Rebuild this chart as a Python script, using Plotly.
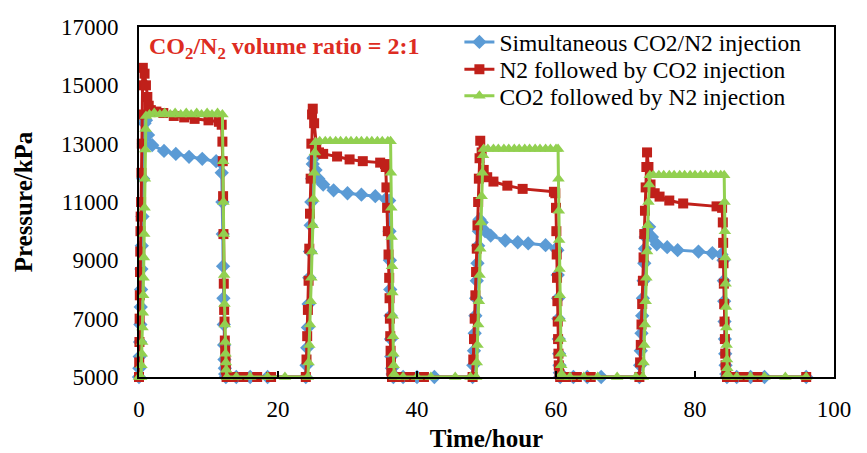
import plotly.graph_objects as go

# ---------------- data ----------------
blue_name = "Simultaneous CO2/N2 injection"
red_name = "N2 followed by CO2 injection"
green_name = "CO2 followed by N2 injection"

blue_t = [0.0, 0.05, 0.1, 0.15, 0.2, 0.25, 0.3, 0.35, 0.4, 0.5, 0.6, 0.7, 0.8, 1.0, 1.3, 1.9, 3.6, 5.3, 7.2, 9.1, 11.1, 11.8,
          11.9, 12.0, 12.05, 12.1, 12.15, 12.2, 12.25, 12.3, 12.35, 12.4, 12.5, 14.0, 16.0, 18.5, 24.0,
          24.1, 24.2, 24.3, 24.4, 24.5, 24.6, 24.7, 24.8, 24.9, 25.0, 25.1, 25.4, 25.8, 26.5, 28.0, 30.0, 32.0, 34.0, 35.5, 36.0,
          36.05, 36.1, 36.15, 36.2, 36.25, 36.3, 36.4, 36.5, 36.6, 38.0, 40.0, 42.5, 48.0,
          48.1, 48.2, 48.3, 48.4, 48.5, 48.6, 48.7, 48.8, 48.9, 49.0, 49.3, 49.8, 50.6, 52.7, 54.5, 56.0, 58.5, 60.0, 60.2,
          60.25, 60.3, 60.35, 60.4, 60.45, 60.5, 60.55, 60.6, 62.5, 64.5, 66.5, 72.0,
          72.1, 72.2, 72.3, 72.4, 72.5, 72.6, 72.7, 72.8, 72.9, 73.0, 73.4, 73.8, 74.5, 76.0, 77.5, 80.5, 82.5, 83.8, 84.1,
          84.15, 84.2, 84.25, 84.3, 84.35, 84.4, 84.5, 84.6, 86.0, 88.0, 90.0, 96.0]
blue_p = [5000, 5300, 5700, 6200, 6800, 7400, 8000, 8700, 9500, 10500, 11800, 13000, 13700, 13800, 13300, 12950, 12750, 12650, 12550, 12480, 12400, 12350,
          12000, 11000, 9900, 8800, 7700, 6800, 6100, 5600, 5300, 5100, 5000, 5000, 5000, 5000, 5000,
          5400, 6000, 6700, 7500, 8400, 9300, 10200, 11000, 11800, 12300, 12500, 12100, 11800, 11600, 11400, 11300, 11250, 11200, 11100, 11050,
          10000, 9000, 8000, 7100, 6300, 5700, 5300, 5100, 5000, 5000, 5000, 5000, 5000,
          5400, 5900, 6500, 7100, 7700, 8300, 8900, 9500, 10000, 10400, 10300, 10000, 9850, 9680, 9620, 9580, 9520, 9400, 9350,
          8500, 7700, 7000, 6300, 5800, 5400, 5150, 5000, 5000, 5000, 5000, 5000,
          5400, 5900, 6500, 7100, 7700, 8300, 8900, 9400, 9800, 10000, 10150, 9800, 9550, 9450, 9350, 9300, 9250, 9200, 9000,
          8300, 7600, 6900, 6300, 5800, 5400, 5100, 5000, 5000, 5000, 5000, 5000]

red_t = [0.0, 0.03, 0.06, 0.09, 0.12, 0.15, 0.18, 0.21, 0.24, 0.3, 0.35, 0.4, 0.45, 0.5, 0.55, 0.8, 1.0, 1.2, 1.4, 1.7, 2.5, 3.5, 5.0, 6.5, 8.0, 10.0, 11.5, 11.9,
         12.0, 12.05, 12.1, 12.15, 12.2, 12.25, 12.3, 12.35, 12.4, 12.45, 12.5, 12.6, 13.5, 15.0, 17.0, 19.0, 24.0,
         24.1, 24.2, 24.3, 24.4, 24.5, 24.6, 24.7, 24.8, 24.9, 25.0, 25.2, 25.5, 25.9, 26.5, 28.5, 30.3, 32.2, 34.7, 35.4,
         35.5, 35.6, 35.7, 35.8, 35.9, 36.0, 36.05, 36.1, 36.15, 36.2, 36.25, 36.3, 36.4, 37.5, 39.0, 41.0, 48.0,
         48.1, 48.2, 48.3, 48.4, 48.5, 48.6, 48.7, 48.8, 48.9, 49.0, 49.1, 49.3, 49.6, 50.1, 51.0, 53.0, 55.2, 59.7, 59.9,
         60.0, 60.05, 60.1, 60.15, 60.2, 60.25, 60.3, 60.35, 60.4, 60.5, 60.6, 61.5, 63.0, 65.0, 72.0,
         72.1, 72.2, 72.3, 72.4, 72.5, 72.6, 72.7, 72.8, 72.9, 73.0, 73.1, 73.3, 73.6, 74.2, 74.9, 76.3, 78.3, 83.1, 83.9,
         84.0, 84.05, 84.1, 84.15, 84.2, 84.25, 84.3, 84.35, 84.4, 84.5, 84.6, 85.5, 87.0, 89.0, 96.0]
red_p = [5000, 5500, 6200, 7000, 7800, 8600, 9300, 10000, 10500, 11000, 12000, 13000, 14000, 15000, 15600, 15400, 15000, 14600, 14300, 14150, 14100, 14050, 13950, 13900, 13850, 13800, 13750, 13650,
         13070, 12400, 11200, 9900, 8200, 7300, 6900, 6250, 5900, 5550, 5250, 5000, 5000, 5000, 5000, 5000, 5000,
         5600, 6400, 7300, 8300, 9400, 10600, 11800, 13000, 14000, 14200, 13700, 13000, 12700, 12650, 12560, 12460, 12400, 12350, 12300,
         12200, 11500, 10800, 10000, 9200, 8400, 7700, 7000, 6400, 5900, 5500, 5200, 5000, 5000, 5000, 5000, 5000,
         5600, 6300, 7000, 7800, 8600, 9400, 10200, 11000, 11800, 12500, 13100, 12700, 12100, 11850, 11700, 11560, 11450, 11350, 11300,
         10800, 10000, 9200, 8400, 7600, 6900, 6300, 5800, 5400, 5100, 5000, 5000, 5000, 5000, 5000,
         5500, 6100, 6800, 7500, 8300, 9100, 9900, 10700, 11500, 12200, 12700, 12200, 11600, 11300, 11185, 11050, 10950, 10850, 10800,
         10300, 9600, 8900, 8200, 7500, 6900, 6300, 5800, 5400, 5100, 5000, 5000, 5000, 5000, 5000]

green_t = [0.0, 0.3, 0.35, 0.4, 0.45, 0.5, 0.55, 0.6, 0.65, 0.7, 0.75, 0.8, 0.85, 0.9, 0.95, 1.0, 1.5, 2.2, 3.0, 3.7, 4.5, 5.2, 6.0, 6.8, 7.5, 8.3, 9.0, 9.8, 10.5, 11.3, 12.0,
           12.1, 12.15, 12.2, 12.25, 12.3, 12.35, 12.4, 12.45, 12.5, 12.55, 12.65, 14.0, 16.0, 18.5, 21.0, 24.3,
           24.4, 24.5, 24.6, 24.7, 24.8, 24.9, 25.0, 25.1, 25.2, 25.3, 25.4, 26.0, 26.8, 27.5, 28.3, 29.0, 29.8, 30.5, 31.3, 32.0, 32.8, 33.5, 34.3, 35.0, 35.8, 36.2,
           36.25, 36.3, 36.35, 36.4, 36.45, 36.5, 36.55, 36.6, 36.65, 36.7, 36.8, 38.0, 40.0, 42.0, 45.5, 47.7, 48.5,
           48.6, 48.7, 48.8, 48.9, 49.0, 49.1, 49.2, 49.3, 49.4, 49.5, 49.6, 50.2, 51.0, 51.7, 52.5, 53.2, 54.0, 54.7, 55.5, 56.2, 57.0, 57.7, 58.5, 59.2, 60.0, 60.3,
           60.35, 60.4, 60.45, 60.5, 60.55, 60.6, 60.65, 60.7, 60.75, 60.8, 60.9, 62.0, 64.0, 66.0, 68.8, 71.5, 72.5,
           72.6, 72.7, 72.8, 72.9, 73.0, 73.1, 73.2, 73.3, 73.4, 73.5, 74.0, 74.8, 75.5, 76.3, 77.0, 77.8, 78.5, 79.3, 80.0, 80.8, 81.5, 82.3, 83.0, 83.7, 84.2,
           84.25, 84.3, 84.35, 84.4, 84.45, 84.5, 84.55, 84.6, 84.65, 84.7, 84.8, 86.0, 88.0, 90.0, 93.0, 96.0]
green_p = [5000, 5000, 5400, 5800, 6200, 6700, 7200, 7800, 8400, 9100, 9900, 10800, 11800, 12800, 13500, 13950, 14000, 14050, 14000, 14050, 14000, 14050, 14000, 14050, 14000, 14050, 14000, 14050, 14000, 14050, 14000,
           12400, 11000, 9900, 8500, 7500, 6800, 6200, 5800, 5500, 5250, 5000, 5000, 5000, 5000, 5000, 5000,
           5500, 6100, 6800, 7600, 8400, 9300, 10200, 11100, 12000, 12700, 13050, 13080, 13080, 13080, 13080, 13080, 13080, 13080, 13080, 13080, 13080, 13080, 13080, 13080, 13080, 13080,
           12000, 10800, 9800, 8800, 7900, 7100, 6400, 5800, 5400, 5100, 5000, 5000, 5000, 5000, 5000, 5000, 5000,
           5500, 6100, 6800, 7600, 8500, 9400, 10300, 11200, 12000, 12600, 12820, 12820, 12820, 12820, 12820, 12820, 12820, 12820, 12820, 12820, 12820, 12820, 12820, 12820, 12820, 12820,
           11800, 10700, 9700, 8700, 7800, 7000, 6300, 5800, 5400, 5100, 5000, 5000, 5000, 5000, 5000, 5000, 5000,
           5500, 6100, 6800, 7600, 8400, 9300, 10200, 11000, 11600, 11920, 11920, 11920, 11920, 11920, 11920, 11920, 11920, 11920, 11920, 11920, 11920, 11920, 11920, 11920, 11920,
           11000, 10000, 9100, 8200, 7400, 6700, 6100, 5600, 5300, 5100, 5000, 5000, 5000, 5000, 5000, 5000]

x_ticks = [0, 20, 40, 60, 80, 100]
y_ticks = [5000, 7000, 9000, 11000, 13000, 15000, 17000]

# ---------------- styles ----------------
BLUE = "#5B9BD5"
RED = "#C0201A"
GREEN = "#92D050"
FONT = "Liberation Serif, Times New Roman, serif"
LEG_FONT = dict(family=FONT, size=23.5, color="black")

fig = go.Figure()
fig.add_trace(go.Scatter(x=blue_t, y=blue_p, name=blue_name, mode="lines+markers",
                         line=dict(color=BLUE, width=3),
                         marker=dict(symbol="diamond", size=11, color=BLUE),
                         cliponaxis=False, legend="legend"))
fig.add_trace(go.Scatter(x=red_t, y=red_p, name=red_name, mode="lines+markers",
                         line=dict(color=RED, width=3),
                         marker=dict(symbol="square", size=10, color=RED),
                         cliponaxis=False, legend="legend2"))
fig.add_trace(go.Scatter(x=green_t, y=green_p, name=green_name, mode="lines+markers",
                         line=dict(color=GREEN, width=3),
                         marker=dict(symbol="triangle-up", size=11, color=GREEN),
                         cliponaxis=False, legend="legend3"))

fig.add_annotation(text="<b>CO<sub>2</sub>/N<sub>2</sub> volume ratio = 2:1</b>",
                   xref="paper", yref="paper", x=0.011, y=0.94,
                   xanchor="left", yanchor="middle", showarrow=False,
                   font=dict(family=FONT, size=24, color="#DD2C22"))

def leg(y):
    return dict(x=0.461, y=y, xanchor="left", yanchor="middle",
                bgcolor="rgba(0,0,0,0)", borderwidth=0, font=LEG_FONT)

fig.update_layout(
    width=859, height=445,
    margin=dict(l=131, r=33, t=13, b=76),
    paper_bgcolor="white", plot_bgcolor="white",
    font=dict(family=FONT, size=22, color="black"),
    showlegend=True,
    legend=leg(0.9566),
    legend2=leg(0.879),
    legend3=leg(0.803),
    xaxis=dict(range=[0, 100], tickvals=x_ticks, ticktext=[str(v) for v in x_ticks],
               showgrid=False, zeroline=False, showline=True, linecolor="black", linewidth=2,
               mirror=True, ticks="inside", ticklen=6, tickcolor="black", tickwidth=1.5,
               ticklabelstandoff=10, automargin=False,
               tickfont=dict(family=FONT, size=23, color="black"),
               title=dict(text="<b>Time/hour</b>", font=dict(family=FONT, size=25, color="black"), standoff=9)),
    yaxis=dict(range=[5000, 17000], tickvals=y_ticks, ticktext=[str(v) for v in y_ticks],
               showgrid=False, zeroline=False, showline=True, linecolor="black", linewidth=2,
               mirror=True, ticks="", ticklabelstandoff=14, automargin=False,
               tickfont=dict(family=FONT, size=23, color="black"),
               title=dict(text="<b>Pressure/kPa</b>", font=dict(family=FONT, size=25, color="black"), standoff=21)),
)

fig.write_html("out.html")
